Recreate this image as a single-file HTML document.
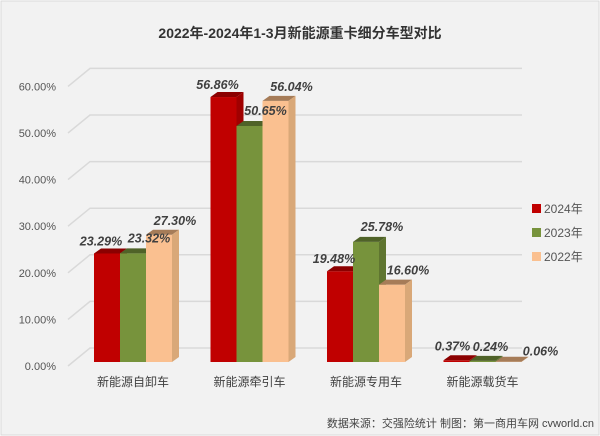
<!DOCTYPE html>
<html><head><meta charset="utf-8"><style>
body{margin:0;background:#fff}
svg{display:block;font-family:"Liberation Sans","Noto Sans CJK SC",sans-serif}
</style></head><body>
<svg id="c" width="600" height="436" viewBox="0 0 600 436">
<rect x="1" y="1" width="598" height="434" fill="#f2f2f2" stroke="#d9d9d9"/>
<text x="300" y="38" text-anchor="middle" font-size="14" font-weight="bold" fill="#333">2022年-2024年1-3月新能源重卡细分车型对比</text>
<g id="grid"></g><g id="bars"></g><g id="lbl"></g>
<g>
<rect x="532" y="204" width="9" height="9" fill="#c00000"/>
<text x="544" y="213" font-size="12" fill="#555">2024年</text>
<rect x="532" y="228" width="9" height="9" fill="#77933c"/>
<text x="544" y="237" font-size="12" fill="#555">2023年</text>
<rect x="532" y="252" width="9" height="9" fill="#fac090"/>
<text x="544" y="261" font-size="12" fill="#555">2022年</text>
</g>
<text x="594" y="427" text-anchor="end" font-size="11" fill="#444">数据来源：交强险统计 制图：第一商用车网 cvworld.cn</text>
</svg>
<script>
const categories=["新能源自卸车","新能源牵引车","新能源专用车","新能源载货车"];
const s2024=[23.29,56.86,19.48,0.37];
const s2023=[23.32,50.65,25.78,0.24];
const s2022=[27.30,56.04,16.60,0.06];
const ticks=[0,10,20,30,40,50,60];
const ns="http://www.w3.org/2000/svg";
const base=362,k=4.66,dx=7,dy=5;
const y=v=>base-v*k;
const gx=i=>94+i*116.5;
function mk(t,a,p){const e=document.createElementNS(ns,t);for(const q in a)e.setAttribute(q,a[q]);p.appendChild(e);return e;}
const G=document.getElementById('grid'),B=document.getElementById('bars'),L=document.getElementById('lbl');
ticks.forEach(t=>{
 const yy=y(t)+4;
 const l=mk('polyline',{points:`68,${yy} 90,${yy-18} 522,${yy-18}`,fill:'none',stroke:'#d9d9d9','stroke-width':1.5},G);
 
 
 const tx=mk('text',{x:56,y:yy+4,'text-anchor':'end','font-size':11,fill:'#555'},G);
 tx.textContent=t.toFixed(2)+'%';
 
 
});
const series=[[s2024,'#c00000','#8b0000','#a00000',-6,-8],[s2023,'#77933c','#4f6228','#5f7530',16,-11],[s2022,'#fac090','#a67c58','#d9a878',16,-10]];
categories.forEach((c,i)=>{
 series.forEach((s,j)=>{
  const v=s[0][i],x=gx(i)+j*26,w=26,t=y(v);
  const g=mk('g',{},B);
  
  
  mk('rect',{x:x,y:t,width:w,height:base-t,fill:s[1]},g);
  mk('polygon',{points:`${x},${t} ${x+dx},${t-dy} ${x+w+dx},${t-dy} ${x+w},${t}`,fill:s[2]},g);
  mk('polygon',{points:`${x+w},${t} ${x+w+dx},${t-dy} ${x+w+dx},${base-dy} ${x+w},${base}`,fill:s[3]},g);
  const small=v<1;
  const ox=small?[-4,8,32][j]:s[4];
  const lb=mk('text',{x:x+w/2+ox,y:t+(small?-10+ (j==2?4:0):s[5]),'text-anchor':'middle','font-size':12.5,'font-weight':'bold','font-style':'italic',fill:'#404040'},L);
  lb.textContent=v.toFixed(2)+'%';
  
  
 });
 const ct=mk('text',{x:gx(i)+39,y:386,'text-anchor':'middle','font-size':12,fill:'#404040'},L);
 ct.textContent=c;
 
 
});
</script>
</body></html>
